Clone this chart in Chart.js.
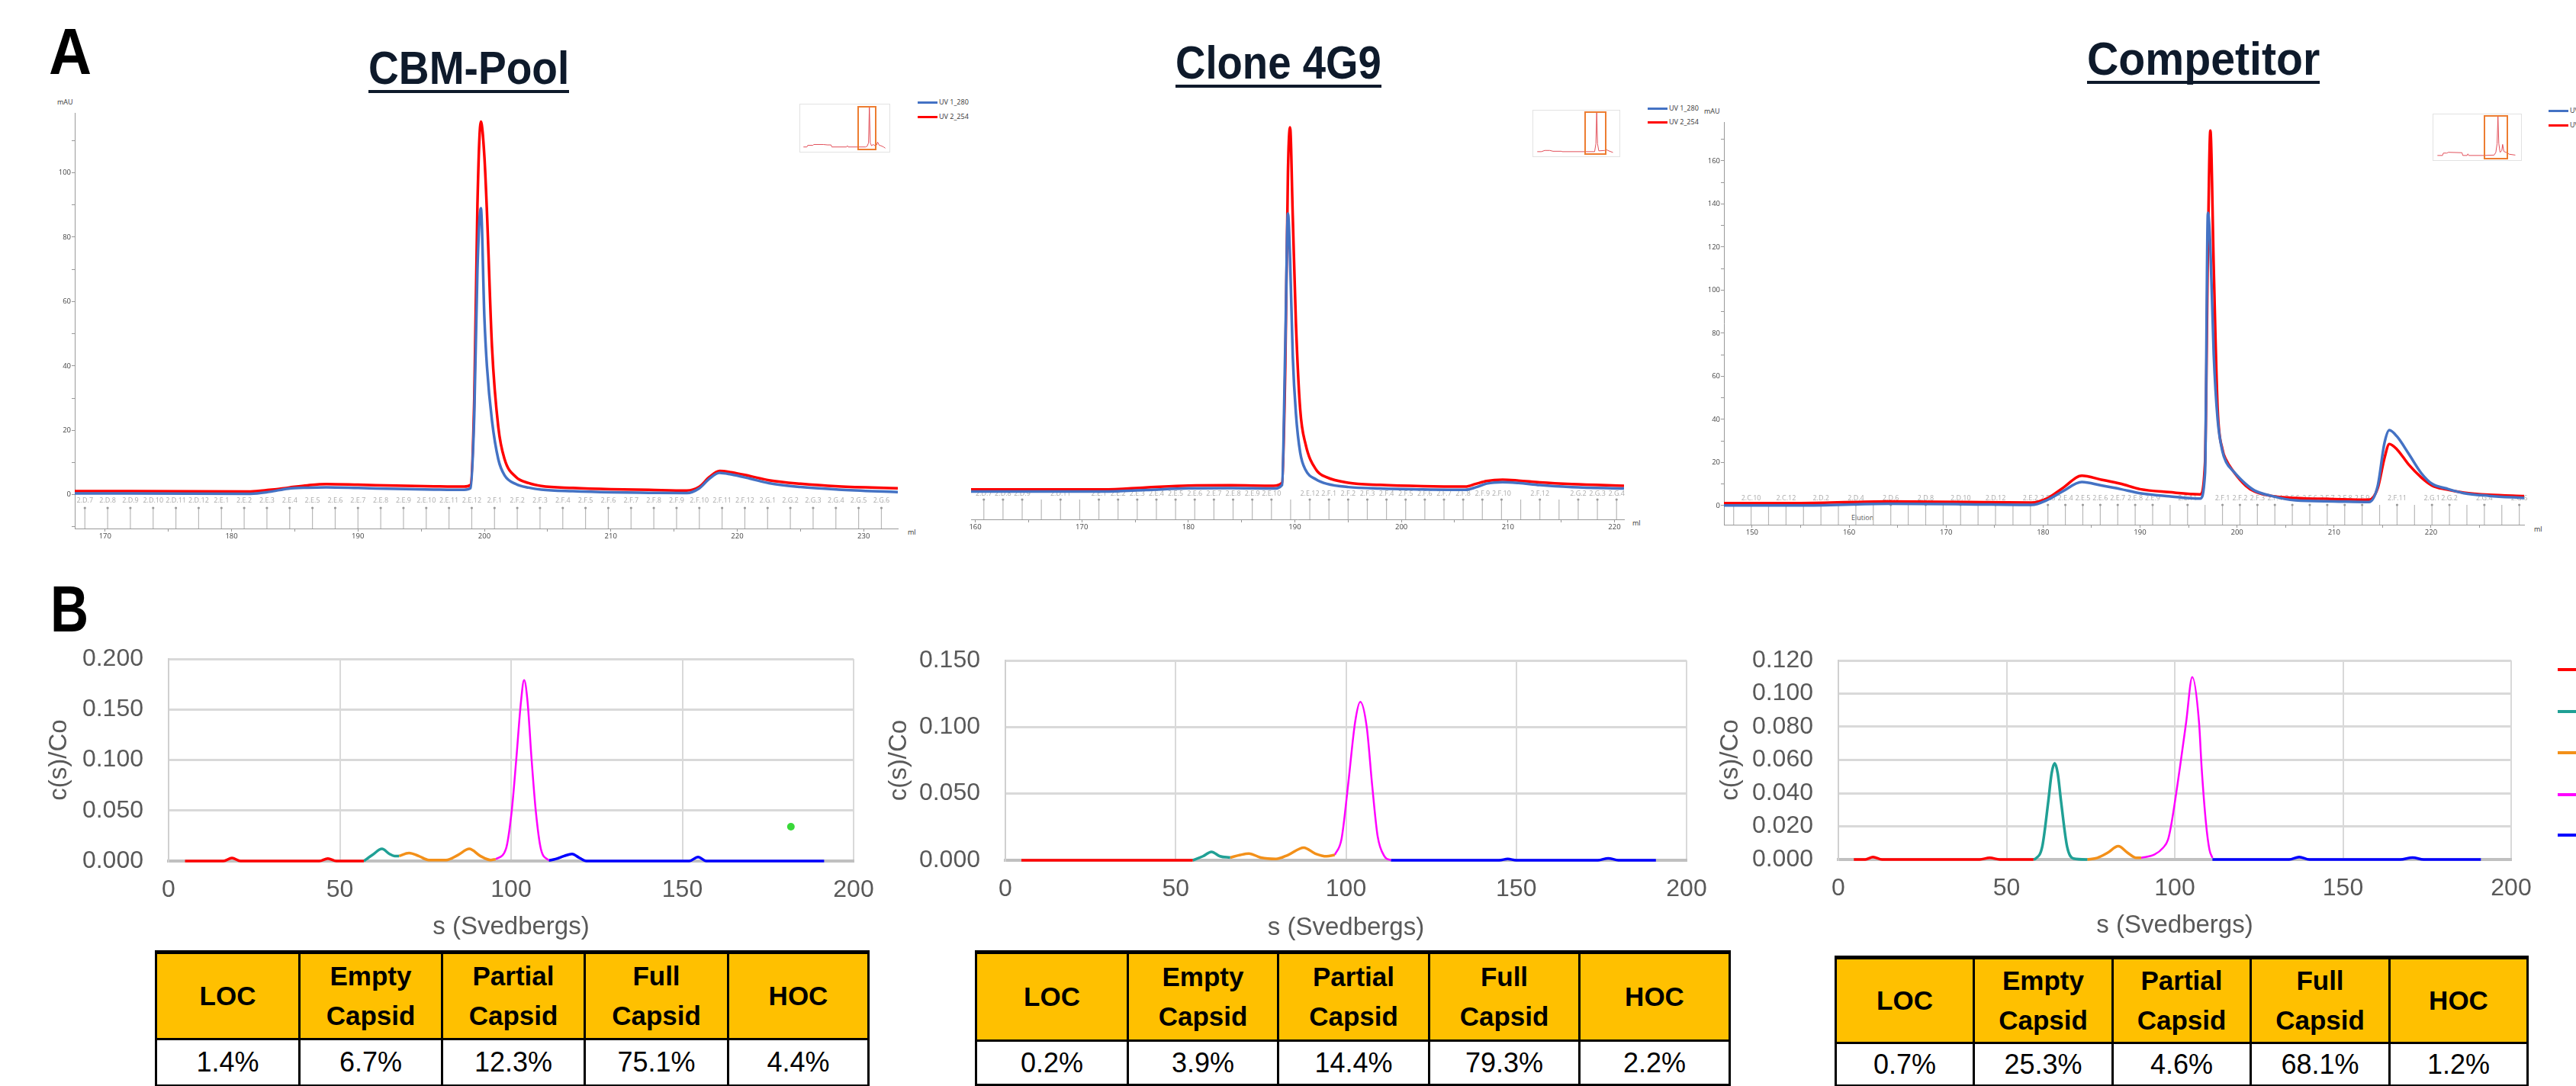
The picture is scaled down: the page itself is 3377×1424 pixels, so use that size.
<!DOCTYPE html>
<html>
<head>
<meta charset="utf-8">
<script src="https://cdn.jsdelivr.net/npm/chart.js@4.4.1/dist/chart.umd.min.js"></script>
<style>
  body { margin: 0; width: 3377px; height: 1424px; position: relative; background: #fff; overflow: hidden; font-family: "Liberation Sans", Arial, sans-serif; }
  canvas { position: absolute; }
  .t { position: absolute; white-space: nowrap; transform-origin: left top; }
  .title { font: bold 61px/57px "Liberation Sans", Arial, sans-serif; color: #0e1a2b; border-bottom: 4px solid #0e1a2b; }
  .panel { font: bold 86px/86px "Liberation Sans", Arial, sans-serif; color: #000; }
  .small { font: 9px/12px "Open Sans", sans-serif; color: #333; }
  .lg i { display: inline-block; width: 26px; height: 3px; vertical-align: middle; margin-right: 2px; }
  .inset { position: absolute; border: 1px solid #e2e2e2; box-sizing: border-box; }
  .zoombox { position: absolute; border: 2px solid #ed7d31; box-sizing: border-box; }
  .key { position: absolute; width: 24px; height: 4px; }
  .tbl { position: absolute; border-collapse: collapse; table-layout: fixed; border-top: 5px solid #000; }
  .tbl th, .tbl td { border: 3px solid #000; padding: 0; text-align: center; }
  .tbl th { background: #ffc000; font: bold 35px/52px "Liberation Sans", Arial, sans-serif; color: #000; }
  .tbl td { background: #fff; font: 36px/1 "Liberation Sans", Arial, sans-serif; color: #000; }
</style>
</head>
<body>
<div class="t panel" style="left:64px;top:24px" data-w="56">A</div>
<div class="t panel" style="left:66px;top:755px" data-w="50">B</div>

<div class="t title" style="left:483px;top:61px" data-w="263">CBM-Pool</div>
<div class="t title" style="left:1541px;top:54px" data-w="270">Clone 4G9</div>
<div class="t title" style="left:2736px;top:49px" data-w="305">Competitor</div>

<div class="t small" style="left:75px;top:128px">mAU</div>
<div class="t small" style="left:2234px;top:140px">mAU</div>
<div class="t small" style="left:1190px;top:692px">ml</div>
<div class="t small" style="left:2140px;top:680px">ml</div>
<div class="t small" style="left:3322px;top:688px">ml</div>
<div class="t small" style="left:2427px;top:673px;color:#555">Elution</div>

<div class="t small lg" style="left:1203px;top:128px"><i style="background:#4472c4"></i>UV 1_280</div>
<div class="t small lg" style="left:1203px;top:147px"><i style="background:#ff0000"></i>UV 2_254</div>
<div class="t small lg" style="left:2160px;top:136px"><i style="background:#4472c4"></i>UV 1_280</div>
<div class="t small lg" style="left:2160px;top:154px"><i style="background:#ff0000"></i>UV 2_254</div>
<div class="t small lg" style="left:3341px;top:139px"><i style="background:#4472c4"></i>UV 1_280</div>
<div class="t small lg" style="left:3341px;top:158px"><i style="background:#ff0000"></i>UV 2_254</div>

<div class="inset" style="left:1048px;top:136px;width:119px;height:64px"></div>
<div class="inset" style="left:2009px;top:144px;width:115px;height:62px"></div>
<div class="inset" style="left:3189px;top:149px;width:117px;height:62px"></div>

<canvas id="a1" width="1180" height="600" style="left:40px;top:120px"></canvas>
<canvas id="a2" width="900" height="590" style="left:1250px;top:130px"></canvas>
<canvas id="a3" width="1177" height="590" style="left:2200px;top:130px"></canvas>
<canvas id="m1" width="119" height="64" style="left:1048px;top:136px"></canvas>
<canvas id="m2" width="115" height="62" style="left:2009px;top:144px"></canvas>
<canvas id="m3" width="117" height="62" style="left:3189px;top:149px"></canvas>

<div class="zoombox" style="left:1124px;top:139px;width:25px;height:58px"></div>
<div class="zoombox" style="left:2077px;top:146px;width:29px;height:57px"></div>
<div class="zoombox" style="left:3256px;top:151px;width:32px;height:58px"></div>

<canvas id="b1" width="1101" height="396" style="left:58px;top:840px"></canvas>
<canvas id="b2" width="1091" height="397" style="left:1159px;top:840px"></canvas>
<canvas id="b3" width="1091" height="394" style="left:2249px;top:840px"></canvas>

<div class="key" style="left:3353px;top:876px;background:#ff0000"></div>
<div class="key" style="left:3353px;top:931px;background:#20a095"></div>
<div class="key" style="left:3353px;top:985px;background:#f39019"></div>
<div class="key" style="left:3353px;top:1040px;background:#ff00ff"></div>
<div class="key" style="left:3353px;top:1093px;background:#0000ff"></div>

<script>
// ---------- Panel A: SEC chromatograms (ml vs mAU) ----------
const cbmMl    = [167.6, 172, 181.5, 183, 184.5, 186, 187.5, 190, 193, 196, 198.4, 198.9, 199.2, 199.45, 199.72, 200.0, 200.2, 200.6, 201.1, 201.6, 202.5, 203.5, 204.5, 207, 210, 213, 216, 217, 217.8, 218.6, 219.5, 221, 222.5, 225, 228, 232.7];
const cbmUv280 = [0.4, 0.4, 0.3, 0.9, 1.9, 2.2, 2.3, 2.1, 1.8, 1.6, 1.5, 2, 25, 70, 89, 55, 40, 23, 11, 6, 3.3, 2.2, 1.6, 1.1, 0.75, 0.6, 0.5, 2, 5.0, 6.8, 6.3, 5.0, 3.6, 2.4, 1.6, 0.8];
const cbmUv254 = [1.1, 1.1, 1.0, 1.5, 2.2, 2.9, 3.3, 3.1, 2.8, 2.6, 2.5, 3, 30, 90, 115.9, 105, 88, 46, 21, 11, 5.5, 3.6, 2.7, 2.1, 1.7, 1.5, 1.3, 2.5, 5.5, 7.4, 7.0, 5.8, 4.5, 3.4, 2.6, 2.0];

const cloneMl    = [159.6, 165, 172, 176, 180, 184, 188, 188.8, 189.1, 189.35, 189.55, 189.8, 190.1, 190.5, 191, 192, 193, 195, 198, 202, 206, 207, 208, 209.5, 211, 213, 216, 220.9];
const cloneUv280 = [1.9, 1.9, 1.9, 2.6, 3.4, 3.5, 3.3, 5, 70, 131, 110, 65, 38, 20, 12, 7.5, 5.5, 4, 3.3, 2.9, 2.7, 3.9, 5.6, 6.3, 5.9, 4.9, 4.0, 3.3];
const cloneUv254 = [2.9, 2.9, 2.9, 3.8, 4.7, 4.8, 4.6, 6, 60, 150, 171, 130, 80, 40, 24, 12, 8.5, 6, 5, 4.4, 4.2, 5.5, 6.8, 7.4, 7.0, 6.2, 5.4, 4.6];

const compMl    = [147.1, 155, 164, 172, 178.8, 180.5, 182, 184, 186, 188, 190, 193, 196.2, 196.7, 197.0, 197.25, 197.6, 198.0, 198.5, 198.9, 199.6, 200.9, 201.8, 203.5, 206, 210, 213.6, 214.5, 215.2, 215.7, 216.5, 217.7, 219, 220.1, 221.5, 223.4, 226, 229.6];
const compUv280 = [0, 0, 0.8, 0.6, 0.3, 2.7, 6.5, 10.9, 9.3, 7.6, 5.7, 4.3, 3.2, 15, 135.9, 120, 70, 40, 25, 20, 16, 10, 7, 4.5, 2.4, 1.9, 1.6, 9, 29, 35, 32, 24, 15, 10.1, 8, 5.7, 4.5, 3.5];
const compUv254 = [1.1, 1.1, 1.9, 1.6, 1.4, 3.5, 8, 13.8, 12, 10.1, 7.6, 6.2, 5.2, 20, 120, 174, 110, 45, 26, 21, 16, 9.2, 6.5, 4.5, 3.5, 3.0, 2.7, 8, 22, 28.5, 26, 19, 13, 9.3, 7.5, 6, 5, 4.4];

// fraction marks (ml) and their labels ('' = mark without label)
const cbmFracMl = [168.4, 170.2, 172.0, 173.8, 175.6, 177.4, 179.2, 181.0, 182.8, 184.6, 186.4, 188.2, 190.0, 191.8, 193.6, 195.4, 197.2, 199.0, 200.8, 202.6, 204.4, 206.2, 208.0, 209.8, 211.6, 213.4, 215.2, 217.0, 218.8, 220.6, 222.4, 224.2, 226.0, 227.8, 229.6, 231.4];
const cbmFracLabels = ['2.D.7', '2.D.8', '2.D.9', '2.D.10', '2.D.11', '2.D.12', '2.E.1', '2.E.2', '2.E.3', '2.E.4', '2.E.5', '2.E.6', '2.E.7', '2.E.8', '2.E.9', '2.E.10', '2.E.11', '2.E.12', '2.F.1', '2.F.2', '2.F.3', '2.F.4', '2.F.5', '2.F.6', '2.F.7', '2.F.8', '2.F.9', '2.F.10', '2.F.11', '2.F.12', '2.G.1', '2.G.2', '2.G.3', '2.G.4', '2.G.5', '2.G.6'];
const cloneFracMl = [160.8, 162.6, 164.4, 166.2, 168.0, 169.8, 171.6, 173.4, 175.2, 177.0, 178.8, 180.6, 182.4, 184.2, 186.0, 187.8, 189.6, 191.4, 193.2, 195.0, 196.8, 198.6, 200.4, 202.2, 204.0, 205.8, 207.6, 209.4, 211.2, 213.0, 214.8, 216.6, 218.4, 220.2];
const cloneFracLabels = ['2.D.7', '2.D.8', '2.D.9', '', '2.D.11', '', '2.E.1', '2.E.2', '2.E.3', '2.E.4', '2.E.5', '2.E.6', '2.E.7', '2.E.8', '2.E.9', '2.E.10', '', '2.E.12', '2.F.1', '2.F.2', '2.F.3', '2.F.4', '2.F.5', '2.F.6', '2.F.7', '2.F.8', '2.F.9', '2.F.10', '', '2.F.12', '', '2.G.2', '2.G.3', '2.G.4'];
const compFracMl = [148.1, 149.9, 151.7, 153.5, 155.3, 157.1, 158.9, 160.7, 162.5, 164.3, 166.1, 167.9, 169.7, 171.5, 173.3, 175.1, 176.9, 178.7, 180.5, 182.3, 184.1, 185.9, 187.7, 189.5, 191.3, 193.1, 194.9, 196.7, 198.5, 200.3, 202.1, 203.9, 205.7, 207.5, 209.3, 211.1, 212.9, 214.7, 216.5, 218.3, 220.1, 221.9, 223.7, 225.5, 227.3, 229.1];
const compFracLabels = ['', '2.C.10', '', '2.C.12', '', '2.D.2', '', '2.D.4', '', '2.D.6', '', '2.D.8', '', '2.D.10', '', '2.D.12', '', '2.E.2', '2.E.3', '2.E.4', '2.E.5', '2.E.6', '2.E.7', '2.E.8', '2.E.9', '', '2.E.11', '', '2.F.1', '2.F.2', '2.F.3', '2.F.4', '2.F.5', '2.F.6', '2.F.7', '2.F.8', '2.F.9', '', '2.F.11', '', '2.G.1', '2.G.2', '', '2.G.4', '', '2.G.6'];

// overview thumbnails (relative run position, relative signal)
const cbmThumbX   = [2, 6, 7, 13, 14, 25, 30, 34, 35, 52, 53, 54, 74, 76, 77.5, 78.5, 79.5, 81, 83, 85, 87, 88, 90, 92, 95, 97];
const cbmThumbY   = [0, 0, 4, 4, 6, 6, 5, 5, 0, 0, 3, 0, 0, 2, 10, 100, 10, 3, 6, 3, 5, 12, 4, 3, 0, -3];
const cloneThumbX = [3, 8, 12, 18, 22, 32, 33, 60, 72, 73.5, 74.5, 75.5, 77, 84, 86, 89, 94];
const cloneThumbY = [0, 0, 3, 3, 1, 1, 0, 0, 0, 20, 100, 20, 2, 3, 5, 2, -2];
const compThumbX  = [3, 9, 10, 14, 16, 32, 33, 38, 39, 40, 58, 70, 72, 73.5, 74.5, 75.5, 77, 79, 80, 81.5, 84, 88, 95];
const compThumbY  = [0, 0, 6, 6, 8, 7, 0, 0, 4, 0, 0, 1, 8, 30, 100, 30, 8, 12, 28, 10, 8, 3, 1];

// ---------- Panel B: c(s) distributions [s, c(s)/Co] ----------
const cbmLoc     = [[4.8, 0], [16, 0], [18.5, 0.003], [21, 0], [44, 0], [46.5, 0.0025], [49, 0], [57, 0]];
const cbmEmpty   = [[57, 0], [59.5, 0.006], [62.3, 0.012], [64.5, 0.007], [66, 0.005], [67.3, 0.005]];
const cbmPartial = [[67.3, 0.005], [70.2, 0.008], [73, 0.005], [76, 0.001], [81, 0.001], [84.5, 0.006], [87.8, 0.012], [91, 0.005], [94, 0.001], [95.5, 0.0018]];
const cbmFull    = [[95.5, 0.0018], [98.5, 0.012], [100.2, 0.05], [101.5, 0.1], [102.9, 0.158], [103.8, 0.179], [104.8, 0.158], [106, 0.1], [107.2, 0.05], [108.7, 0.012], [111, 0.0005]];
const cbmHoc     = [[111, 0.0005], [113, 0.002], [115.5, 0.005], [117.8, 0.007], [120, 0.003], [122, 0], [152, 0], [154.6, 0.004], [157, 0], [191.4, 0]];
const cbmOutlier = [[181.7, 0.034]];

const cloneLoc     = [[4.7, 0], [55, 0]];
const cloneEmpty   = [[55, 0], [58, 0.003], [60.5, 0.0063], [63, 0.003], [66, 0.002]];
const clonePartial = [[66, 0.002], [69, 0.004], [71.5, 0.005], [75, 0.002], [79.4, 0.001], [83, 0.004], [87.6, 0.0095], [91, 0.005], [94.3, 0.003], [96.7, 0.004]];
const cloneFull    = [[96.7, 0.004], [98.7, 0.016], [100.6, 0.056], [102.7, 0.104], [104.2, 0.119], [106.1, 0.1], [107.7, 0.056], [109.3, 0.018], [111.3, 0.003], [113.2, 0]];
const cloneHoc     = [[113.2, 0], [145, 0], [147.5, 0.001], [150, 0], [174, 0], [177, 0.0015], [180, 0], [191, 0]];

const compLoc     = [[4.6, 0], [8, 0], [10.3, 0.0015], [13, 0], [42, 0], [45, 0.001], [48, 0], [58, 0]];
const compEmpty   = [[58, 0], [58.7, 0.0006], [60.6, 0.0077], [62.4, 0.035], [63.4, 0.052], [64.3, 0.058], [65.2, 0.052], [66.2, 0.035], [68, 0.0077], [69.9, 0.0006], [74, 0]];
const compPartial = [[74, 0], [77, 0.001], [80, 0.004], [83.2, 0.008], [86, 0.004], [88.5, 0.001], [90, 0.001]];
const compFull    = [[90, 0.001], [94, 0.003], [96.5, 0.007], [98, 0.012], [99, 0.0215], [101.5, 0.055], [103.4, 0.083], [105.2, 0.11], [107.2, 0.083], [108, 0.055], [109.3, 0.0215], [110.3, 0.006], [111.2, 0.001]];
const compHoc     = [[111.2, 0], [134, 0], [137, 0.0015], [140, 0], [167, 0], [170.7, 0.0012], [174, 0], [191, 0]];

// ---------- Tables ----------
const tableHeads  = ['LOC', 'Empty Capsid', 'Partial Capsid', 'Full Capsid', 'HOC'];
const cbmShares   = [1.4, 6.7, 12.3, 75.1, 4.4];
const cloneShares = [0.2, 3.9, 14.4, 79.3, 2.2];
const compShares  = [0.7, 25.3, 4.6, 68.1, 1.2];

Chart.defaults.font.family = '"Liberation Sans", Arial, sans-serif';
Chart.defaults.animation = false;

const RED = '#ff0000', BLUE = '#4472c4';
const speciesColors = ['#ff0000', '#20a095', '#f39019', '#ff00ff', '#0000ff'];

const xy = (xs, ys) => xs.map((x, i) => ({x: x, y: ys[i]}));
const pairs = arr => arr.map(p => ({x: p[0], y: p[1]}));

// fraction collector marks along the bottom of the chromatograms
const fractionMarks = {
  id: 'fractionMarks',
  beforeDatasetsDraw(chart, args, opts) {
    if (!opts.pos) return;
    const {ctx, chartArea} = chart;
    const x = chart.scales.x;
    ctx.save();
    ctx.font = '9px "Open Sans", sans-serif';
    ctx.textAlign = 'center';
    ctx.textBaseline = 'middle';
    opts.pos.forEach((v, i) => {
      const px = x.getPixelForValue(v);
      if (px < chartArea.left || px > chartArea.right) return;
      const top = chartArea.bottom - opts.tick;
      ctx.strokeStyle = '#b8b8b8';
      ctx.lineWidth = 1.2;
      ctx.beginPath();
      ctx.moveTo(px, top);
      ctx.lineTo(px, chartArea.bottom);
      ctx.stroke();
      if (opts.labels[i]) {
        ctx.fillStyle = '#999';
        ctx.beginPath();
        ctx.arc(px, top, 1.6, 0, Math.PI * 2);
        ctx.fill();
        ctx.fillStyle = '#aaa';
        ctx.fillText(opts.labels[i], px, chartArea.bottom - opts.label);
      }
    });
    ctx.restore();
  }
};

function chromChart(id, ml, uv280, uv254, c) {
  return new Chart(document.getElementById(id), {
    type: 'line',
    data: {
      datasets: [
        {label: 'UV 1_280', data: xy(ml, uv280), borderColor: BLUE, borderWidth: 3.5},
        {label: 'UV 2_254', data: xy(ml, uv254), borderColor: RED, borderWidth: 3.5}
      ]
    },
    options: {
      responsive: false,
      layout: {padding: c.pad},
      elements: {point: {radius: 0}, line: {cubicInterpolationMode: 'monotone'}},
      plugins: {
        legend: {display: false},
        tooltip: {enabled: false},
        fractionMarks: {pos: c.fracMl, labels: c.fracLabels, label: c.fracLabel, tick: c.fracTick}
      },
      scales: {
        x: {
          type: 'linear', min: c.x[0], max: c.x[1],
          grid: {drawOnChartArea: false, tickLength: 4, color: '#999'},
          border: {color: '#999'},
          ticks: {stepSize: 5, includeBounds: false, autoSkip: false, maxRotation: 0, padding: 1, color: '#444',
            font: {family: '"Open Sans", sans-serif', size: 9.5},
            callback: v => (v % 10 === 0 ? v : '')},
          afterFit: s => { s.height = c.xh; }
        },
        y: {
          display: c.showY, min: c.y[0], max: c.y[1],
          grid: {drawOnChartArea: false, tickLength: 4, color: '#999'},
          border: {color: '#999'},
          ticks: {stepSize: 10, includeBounds: false, padding: 1, color: '#444',
            font: {family: '"Open Sans", sans-serif', size: 9.5},
            callback: v => (v % 20 === 0 ? v : '')},
          afterFit: s => { s.width = c.yw; }
        }
      }
    },
    plugins: [fractionMarks]
  });
}

chromChart('a1', cbmMl, cbmUv280, cbmUv254, {
  x: [167.6, 232.7], y: [-10.5, 118.6], showY: true, yw: 58, xh: 27,
  pad: {left: 0, top: 28, right: 43, bottom: 0},
  fracMl: cbmFracMl, fracLabels: cbmFracLabels, fracLabel: 37, fracTick: 27
});
chromChart('a2', cloneMl, cloneUv280, cloneUv254, {
  x: [159.6, 220.9], y: [-11, 177], showY: false, yw: 0, xh: 39,
  pad: {left: 23, top: 20, right: 21, bottom: 0},
  fracMl: cloneFracMl, fracLabels: cloneFracLabels, fracLabel: 34, fracTick: 26
});
chromChart('a3', compMl, compUv280, compUv254, {
  x: [147.1, 229.6], y: [-8.9, 178], showY: true, yw: 60, xh: 32,
  pad: {left: 0, top: 30, right: 68, bottom: 0},
  fracMl: compFracMl, fracLabels: compFracLabels, fracLabel: 35, fracTick: 26
});

function thumbChart(id, xs, ys) {
  return new Chart(document.getElementById(id), {
    type: 'line',
    data: {datasets: [{data: xy(xs, ys), borderColor: '#e2505a', borderWidth: 1, pointRadius: 0}]},
    options: {
      responsive: false,
      layout: {padding: 3},
      plugins: {legend: {display: false}, tooltip: {enabled: false}},
      scales: {
        x: {type: 'linear', display: false, min: 0, max: 100},
        y: {display: false, min: -8, max: 100}
      }
    }
  });
}
thumbChart('m1', cbmThumbX, cbmThumbY);
thumbChart('m2', cloneThumbX, cloneThumbY);
thumbChart('m3', compThumbX, compThumbY);

function sedChart(id, series, outlier, c) {
  const sets = series.map((s, i) => ({
    data: pairs(s), borderColor: speciesColors[i], borderWidth: i === 3 ? 2.5 : 3.5,
    pointRadius: 0, cubicInterpolationMode: 'monotone', clip: 8
  }));
  if (outlier) {
    sets.push({data: pairs(outlier), showLine: false, pointRadius: 5, pointBackgroundColor: '#39d839', pointBorderWidth: 0});
  }
  const axisFont = {family: '"Liberation Sans", Arial, sans-serif', size: 32};
  const titleFont = {family: '"Liberation Sans", Arial, sans-serif', size: 33};
  // label gaps come from invisible tick marks so the plot area is not pushed inwards
  return new Chart(document.getElementById(id), {
    type: 'line',
    data: {datasets: sets},
    options: {
      responsive: false,
      layout: {padding: c.pad},
      plugins: {legend: {display: false}, tooltip: {enabled: false}},
      scales: {
        x: {
          type: 'linear', min: 0, max: 200,
          grid: {color: '#d9d9d9', lineWidth: 2, tickLength: 16, tickColor: 'rgba(0,0,0,0)'},
          border: {color: '#c0c0c0', width: 4},
          ticks: {stepSize: 50, padding: 3, color: '#595959', font: axisFont, maxRotation: 0},
          title: {display: true, text: 's (Svedbergs)', color: '#595959', font: titleFont, padding: 0},
          afterFit: s => { s.height = c.xh; }
        },
        y: {
          min: 0, max: c.yMax,
          grid: {color: '#d9d9d9', lineWidth: 3, tickLength: 30, tickColor: 'rgba(0,0,0,0)'},
          border: {color: '#d0d0d0', width: 2},
          ticks: {stepSize: c.yStep, padding: 3, color: '#595959', font: axisFont, callback: v => v.toFixed(3)},
          title: {display: true, text: 'c(s)/Co', color: '#595959', font: titleFont, padding: 0},
          afterFit: s => { s.width = c.yw; }
        }
      }
    }
  });
}

sedChart('b1', [cbmLoc, cbmEmpty, cbmPartial, cbmFull, cbmHoc], cbmOutlier,
  {yMax: 0.2, yStep: 0.05, yw: 163, xh: 107, pad: {left: 0, top: 24, right: 40, bottom: 0}});
sedChart('b2', [cloneLoc, cloneEmpty, clonePartial, cloneFull, cloneHoc], null,
  {yMax: 0.15, yStep: 0.05, yw: 159, xh: 109, pad: {left: 0, top: 26, right: 39, bottom: 0}});
sedChart('b3', [compLoc, compEmpty, compPartial, compFull, compHoc], null,
  {yMax: 0.12, yStep: 0.02, yw: 161, xh: 107, pad: {left: 0, top: 26, right: 48, bottom: 0}});

function buildTable(left, top, widths, headH, rowH, values) {
  const t = document.createElement('table');
  t.className = 'tbl';
  t.style.left = left + 'px';
  t.style.top = top + 'px';
  t.style.width = widths.reduce((a, b) => a + b, 0) + 'px';
  let html = '<colgroup>' + widths.map(w => '<col style="width:' + w + 'px">').join('') + '</colgroup>';
  html += '<tr style="height:' + headH + 'px">' + tableHeads.map(h => '<th>' + h.replace(' ', '<br>') + '</th>').join('') + '</tr>';
  html += '<tr style="height:' + rowH + 'px">' + values.map(v => '<td>' + v.toFixed(1) + '%</td>').join('') + '</tr>';
  t.innerHTML = html;
  document.body.appendChild(t);
}
buildTable(203, 1246, [188, 187, 187, 188, 184], 114, 61, cbmShares);
buildTable(1278, 1246, [199, 197, 198, 197, 197], 116, 58, cloneShares);
buildTable(2405, 1253, [181, 182, 181, 182, 181], 112, 56, compShares);

// squeeze the bold headings to the width they have in the figure
document.querySelectorAll('[data-w]').forEach(el => {
  el.style.transform = 'scaleX(' + (+el.dataset.w / el.offsetWidth) + ')';
});
</script>
</body>
</html>
